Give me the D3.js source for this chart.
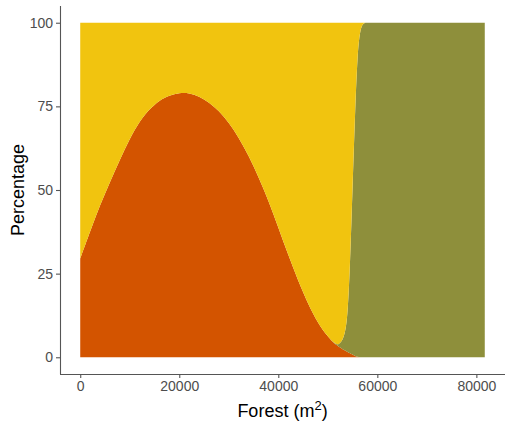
<!DOCTYPE html>
<html>
<head>
<meta charset="utf-8">
<script src="https://cdn.jsdelivr.net/npm/d3@7"></script>
<style>
  html, body { margin: 0; padding: 0; background: #fff; }
  svg { display: block; }
  text { font-family: "Liberation Sans", Arial, sans-serif; }
</style>
</head>
<body>
<svg id="chart" width="505" height="427"></svg>
<script>
// ---- data ----
const forest = [0,2000,4000,6000,8000,10000,12000,14000,16000,18000,20000,22000,24000,26000,28000,30000,32000,34000,36000,38000,40000,42000,44000,46000,48000,50000,51000,52000,52500,53000,53500,54000,54500,55000,55500,56000,56500,57000,57500,58000,60000,65000,70000,75000,81700];
const seriesRed = [29.5,37.6,45.5,52.4,59.0,65.3,70.6,74.2,76.8,78.3,79.0,79.0,78.0,76.2,73.7,70.2,65.7,60.3,53.9,46.9,38.8,30.6,22.9,16.0,10.2,6.2,4.6,3.4,2.9,2.4,2.0,1.6,1.2,0.8,0.35,0.1,0,0,0,0,0,0,0,0,0];
const seriesOlive = [0,0,0,0,0,0,0,0,0,0,0,0,0,0,0,0,0,0,0,0,0,0,0,0,0,0,0,0.2,1.4,2.8,5.5,10.7,26.8,50.2,72.65,90.9,97.5,99.6,100,100,100,100,100,100,100];
const seriesYellow = forest.map((d, i) => +(100 - seriesRed[i] - seriesOlive[i]).toFixed(2));
const keys = ["red", "olive", "yellow"];
const colors = ["#D35400", "#8E8F3B", "#F1C40F"];
const xTicks = [0, 20000, 40000, 60000, 80000];
const yTicks = [0, 25, 50, 75, 100];

const table = forest.map((f, i) => ({ forest: f, red: seriesRed[i], olive: seriesOlive[i], yellow: seriesYellow[i] }));

// ---- layout ----
const svg = d3.select("#chart");
const panel = { left: 60, right: 505, top: 6, bottom: 374 };
const xMin = 0, xMax = 81700;
const xPad = (xMax - xMin) * 0.05;
const x = d3.scaleLinear().domain([xMin - xPad, xMax + xPad]).range([panel.left, panel.right]);
const y = d3.scaleLinear().domain([-5, 105]).range([panel.bottom, panel.top]);

const stack = d3.stack().keys(keys);
const layers = stack(table);
const area = d3.area()
  .x(d => x(d.data.forest))
  .y0(d => y(d[0]))
  .y1(d => y(d[1]))
  .curve(d3.curveBasis);

svg.append("g").selectAll("path")
  .data(layers)
  .join("path")
  .attr("d", area)
  .attr("fill", (d, i) => colors[i])
  .attr("stroke", "none");

// ---- axes ----
const xAxis = d3.axisBottom(x).tickValues(xTicks).tickFormat(d3.format("d")).tickSize(4).tickPadding(3);
const yAxis = d3.axisLeft(y).tickValues(yTicks).tickFormat(d3.format("d")).tickSize(4).tickPadding(3);

const gx = svg.append("g").attr("transform", `translate(0,${panel.bottom})`).call(xAxis);
const gy = svg.append("g").attr("transform", `translate(${panel.left},0)`).call(yAxis);

[gx, gy].forEach(g => {
  g.select(".domain").attr("stroke", "#555").attr("stroke-width", 1.1);
  g.selectAll(".tick line").attr("stroke", "#555").attr("stroke-width", 1.1);
  g.selectAll(".tick text").attr("fill", "#4D4D4D").style("font-size", "14px")
    .style("font-family", "'Liberation Sans', Arial, sans-serif");
});
gx.select(".domain").attr("d", `M${panel.left},0.5H${panel.right}`);
gy.select(".domain").attr("d", `M0.5,${panel.bottom}V${panel.top}`);

// ---- titles ----
const xt = svg.append("text")
  .attr("x", (panel.left + panel.right) / 2)
  .attr("y", 417)
  .attr("text-anchor", "middle")
  .style("font-size", "18px")
  .attr("fill", "#000");
xt.append("tspan").text("Forest (m");
xt.append("tspan").text("2").attr("dy", -7).style("font-size", "13px");
xt.append("tspan").text(")").attr("dy", 7);

svg.append("text")
  .attr("transform", `translate(24,${(panel.top + panel.bottom) / 2}) rotate(-90)`)
  .attr("text-anchor", "middle")
  .style("font-size", "18px")
  .attr("fill", "#000")
  .text("Percentage");
</script>
</body>
</html>
